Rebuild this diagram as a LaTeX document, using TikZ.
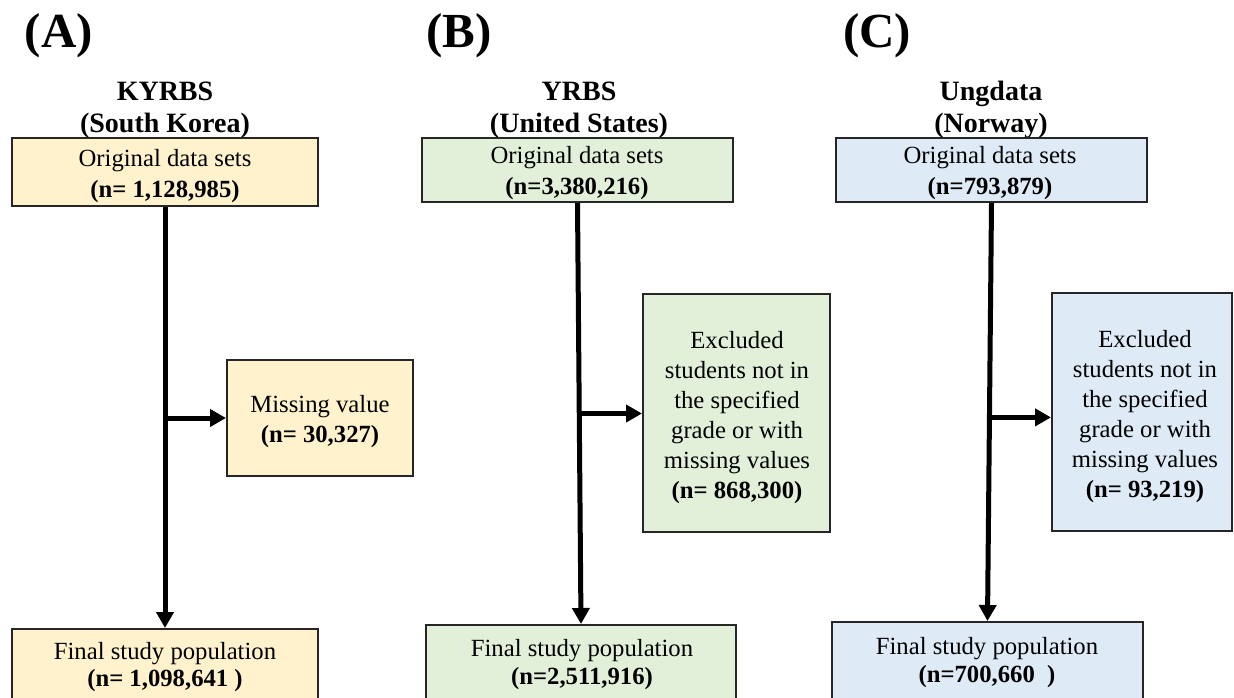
\documentclass[tikz,border=0pt]{standalone}
\usepackage{fontspec}
\setmainfont{Liberation Serif}
\usetikzlibrary{arrows.meta,calc}
\definecolor{fillA}{HTML}{FFF2CC}
\definecolor{fillB}{HTML}{E2F0D9}
\definecolor{fillC}{HTML}{DEEBF7}
\definecolor{edgecol}{HTML}{262626}
\newcommand\hstrut[1]{\rule{0pt}{#1}}
\begin{document}
\begin{tikzpicture}[x=1pt,y=-1pt,
  box/.style={draw=edgecol, line width=2pt, inner sep=0pt},
  lab/.style={font=\fontsize{49}{55}\selectfont\bfseries, inner sep=0pt, anchor=base},
  ttl/.style={font=\fontsize{28}{32}\selectfont\bfseries, align=center, inner sep=0pt, anchor=north},
  txt/.style={font=\fontsize{24.7}{30}\selectfont, align=center, inner sep=0pt, anchor=north},
  arr/.style={line width=5pt, black, -{Triangle[length=16pt,width=17pt]}}
]
\fill[white] (0,0) rectangle (1234,697);
\useasboundingbox (0,0) rectangle (1234,697);

% ---------- Panel A ----------
\node[lab] (labA) at (59,47) {(A)};
\node[ttl] (tA) at (165,79) {\hstrut{21pt}KYRBS\\(South Korea)};
\node[box, fill=fillA, minimum width=306pt, minimum height=68pt] (oA) at (165,172) {};
\node[txt] (oAt) at (165,148) {\hstrut{18pt}Original data sets\\[1pt]\textbf{(n= 1,128,985)}};
\node[box, fill=fillA, minimum width=186pt, minimum height=116pt] (mA) at (320,418) {};
\node[txt] (mAt) at (320,394) {\hstrut{18pt}Missing value\\\textbf{(n= 30,327)}};
\node[box, fill=fillA, minimum width=306pt, minimum height=76pt] (fA) at (165,667) {};
\node[txt] (fAt) at (165,641) {\hstrut{18pt}Final study population\\[-3pt]\textbf{(n= 1,098,641 )}};
\draw[arr] (oA.south) -- (fA.north);
\coordinate (jA) at ($(oA.south)!(mA.west)!(fA.north)$);
\draw[arr] (jA) -- (jA -| mA.west);

% ---------- Panel B ----------
\node[lab] (labB) at (459,47) {(B)};
\node[ttl] (tB) at (579,79) {\hstrut{21pt}YRBS\\(United States)};
\node[box, fill=fillB, minimum width=311pt, minimum height=64pt] (oB) at (577.5,170) {};
\node[txt] (oBt) at (577,145) {\hstrut{18pt}Original data sets\\[1pt]\textbf{(n=3,380,216)}};
\node[box, fill=fillB, minimum width=187pt, minimum height=238pt] (eB) at (736.5,413) {};
\node[txt] (eBt) at (737,330) {\hstrut{18pt}Excluded\\students not in\\the specified\\grade or with\\missing values\\\textbf{(n= 868,300)}};
\node[box, fill=fillB, minimum width=310pt, minimum height=80pt] (fB) at (581,665) {};
\node[txt] (fBt) at (582,638) {\hstrut{18pt}Final study population\\[-2pt]\textbf{(n=2,511,916)}};
\draw[arr] (oB.south) -- (fB.north);
\coordinate (jB) at ($(oB.south)!(eB.west)!(fB.north)$);
\draw[arr] (jB) -- (jB -| eB.west);

% ---------- Panel C ----------
\node[lab] (labC) at (877,47) {(C)};
\node[ttl] (tC) at (991,79) {\hstrut{21pt}Ungdata\\(Norway)};
\node[box, fill=fillC, minimum width=311pt, minimum height=64pt] (oC) at (991.5,170) {};
\node[txt] (oCt) at (990,145) {\hstrut{18pt}Original data sets\\[1pt]\textbf{(n=793,879)}};
\node[box, fill=fillC, minimum width=180pt, minimum height=238pt] (eC) at (1142,412) {};
\node[txt] (eCt) at (1145,329) {\hstrut{18pt}Excluded\\students not in\\the specified\\grade or with\\missing values\\\textbf{(n= 93,219)}};
\node[box, fill=fillC, minimum width=311pt, minimum height=82pt] (fC) at (987.5,663) {};
\node[txt] (fCt) at (987,636) {\hstrut{18pt}Final study population\\[-2pt]\textbf{(n=700,660\ \ )}};
\draw[arr] (oC.south) -- (fC.north);
\coordinate (jC) at ($(oC.south)!($(eC.west)+(0,6)$)!(fC.north)$);
\draw[arr] (jC) -- (jC -| eC.west);
\end{tikzpicture}
\end{document}
